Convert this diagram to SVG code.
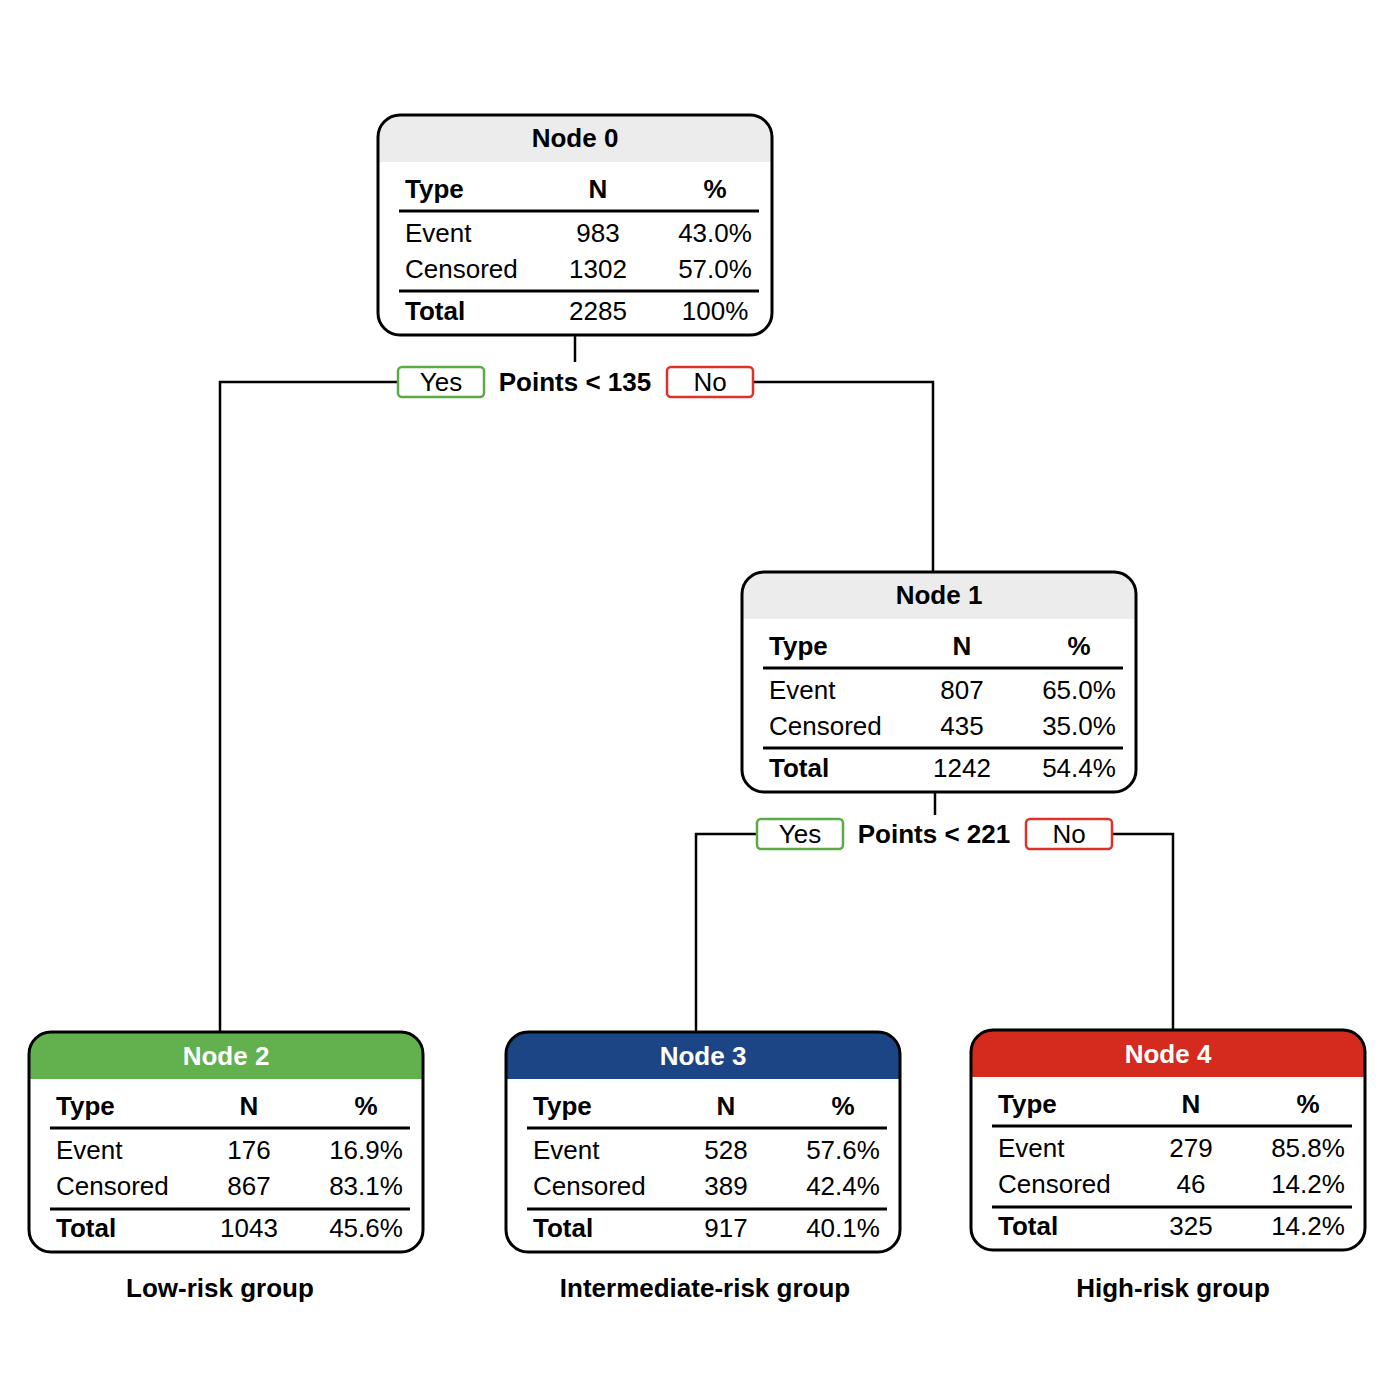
<svg xmlns="http://www.w3.org/2000/svg" width="1382" height="1382" viewBox="0 0 1382 1382">
<style>
text{font-family:"Liberation Sans",Arial,sans-serif;font-size:26px;fill:#000}
.b{font-weight:bold}
.m{text-anchor:middle}
.w{fill:#fff}
.border{fill:none;stroke:#000;stroke-width:3}
.rule{stroke:#000;stroke-width:3}
.conn{fill:none;stroke:#000;stroke-width:2.5}
.yes{fill:#fff;stroke:#5aab46;stroke-width:2.5}
.no{fill:#fff;stroke:#e0302a;stroke-width:2.5}
</style>
<defs>
<path id="hdr" d="M0,47 L0,22 A22,22 0 0 1 22,0 L372,0 A22,22 0 0 1 394,22 L394,47 Z"/>
</defs>
<rect width="1382" height="1382" fill="#fff"/>
<g id="connectors">
<path class="conn" d="M575,335 V362"/>
<path class="conn" d="M398,382 H220 V1032"/>
<path class="conn" d="M753,382 H933 V572"/>
<rect class="yes" x="398" y="367" width="86" height="30" rx="4"/>
<rect class="no" x="667" y="367" width="86" height="30" rx="4"/>
<text class="m" x="441" y="391">Yes</text>
<text class="m" x="710" y="391">No</text>
<text class="m b" x="575" y="391">Points &lt; 135</text>
<path class="conn" d="M935,792 V815"/>
<path class="conn" d="M757,834 H696 V1032"/>
<path class="conn" d="M1112,834 H1173 V1030"/>
<rect class="yes" x="757" y="819" width="86" height="30" rx="4"/>
<rect class="no" x="1026" y="819" width="86" height="30" rx="4"/>
<text class="m" x="800" y="843">Yes</text>
<text class="m" x="1069" y="843">No</text>
<text class="m b" x="934" y="843">Points &lt; 221</text>
</g>
<g id="node0" transform="translate(378,115)">
<use href="#hdr" fill="#ececec"/>
<rect class="border" x="0" y="0" width="394" height="220" rx="22"/>
<text class="m b" x="197" y="32">Node 0</text>
<text class="b" x="27" y="83">Type</text><text class="m b" x="220" y="83">N</text><text class="m b" x="337" y="83">%</text>
<line class="rule" x1="21" y1="96" x2="381" y2="96"/>
<text x="27" y="127">Event</text><text class="m" x="220" y="127">983</text><text class="m" x="337" y="127">43.0%</text>
<text x="27" y="163">Censored</text><text class="m" x="220" y="163">1302</text><text class="m" x="337" y="163">57.0%</text>
<line class="rule" x1="21" y1="176" x2="381" y2="176"/>
<text class="b" x="27" y="205">Total</text><text class="m" x="220" y="205">2285</text><text class="m" x="337" y="205">100%</text>
</g>
<g id="node1" transform="translate(742,572)">
<use href="#hdr" fill="#ececec"/>
<rect class="border" x="0" y="0" width="394" height="220" rx="22"/>
<text class="m b" x="197" y="32">Node 1</text>
<text class="b" x="27" y="83">Type</text><text class="m b" x="220" y="83">N</text><text class="m b" x="337" y="83">%</text>
<line class="rule" x1="21" y1="96" x2="381" y2="96"/>
<text x="27" y="127">Event</text><text class="m" x="220" y="127">807</text><text class="m" x="337" y="127">65.0%</text>
<text x="27" y="163">Censored</text><text class="m" x="220" y="163">435</text><text class="m" x="337" y="163">35.0%</text>
<line class="rule" x1="21" y1="176" x2="381" y2="176"/>
<text class="b" x="27" y="205">Total</text><text class="m" x="220" y="205">1242</text><text class="m" x="337" y="205">54.4%</text>
</g>
<g id="node2" transform="translate(29,1032)">
<use href="#hdr" fill="#62b04e"/>
<rect class="border" x="0" y="0" width="394" height="220" rx="22"/>
<text class="m b w" x="197" y="33">Node 2</text>
<text class="b" x="27" y="83">Type</text><text class="m b" x="220" y="83">N</text><text class="m b" x="337" y="83">%</text>
<line class="rule" x1="21" y1="96" x2="381" y2="96"/>
<text x="27" y="127">Event</text><text class="m" x="220" y="127">176</text><text class="m" x="337" y="127">16.9%</text>
<text x="27" y="163">Censored</text><text class="m" x="220" y="163">867</text><text class="m" x="337" y="163">83.1%</text>
<line class="rule" x1="21" y1="177" x2="381" y2="177"/>
<text class="b" x="27" y="205">Total</text><text class="m" x="220" y="205">1043</text><text class="m" x="337" y="205">45.6%</text>
</g>
<g id="node3" transform="translate(506,1032)">
<use href="#hdr" fill="#1c4585"/>
<rect class="border" x="0" y="0" width="394" height="220" rx="22"/>
<text class="m b w" x="197" y="33">Node 3</text>
<text class="b" x="27" y="83">Type</text><text class="m b" x="220" y="83">N</text><text class="m b" x="337" y="83">%</text>
<line class="rule" x1="21" y1="96" x2="381" y2="96"/>
<text x="27" y="127">Event</text><text class="m" x="220" y="127">528</text><text class="m" x="337" y="127">57.6%</text>
<text x="27" y="163">Censored</text><text class="m" x="220" y="163">389</text><text class="m" x="337" y="163">42.4%</text>
<line class="rule" x1="21" y1="177" x2="381" y2="177"/>
<text class="b" x="27" y="205">Total</text><text class="m" x="220" y="205">917</text><text class="m" x="337" y="205">40.1%</text>
</g>
<g id="node4" transform="translate(971,1030)">
<use href="#hdr" fill="#d52b1e"/>
<rect class="border" x="0" y="0" width="394" height="220" rx="22"/>
<text class="m b w" x="197" y="33">Node 4</text>
<text class="b" x="27" y="83">Type</text><text class="m b" x="220" y="83">N</text><text class="m b" x="337" y="83">%</text>
<line class="rule" x1="21" y1="96" x2="381" y2="96"/>
<text x="27" y="127">Event</text><text class="m" x="220" y="127">279</text><text class="m" x="337" y="127">85.8%</text>
<text x="27" y="163">Censored</text><text class="m" x="220" y="163">46</text><text class="m" x="337" y="163">14.2%</text>
<line class="rule" x1="21" y1="177" x2="381" y2="177"/>
<text class="b" x="27" y="205">Total</text><text class="m" x="220" y="205">325</text><text class="m" x="337" y="205">14.2%</text>
</g>
<g id="captions">
<text class="m b" x="220" y="1297">Low-risk group</text>
<text class="m b" x="705" y="1297">Intermediate-risk group</text>
<text class="m b" x="1173" y="1297">High-risk group</text>
</g>
</svg>
